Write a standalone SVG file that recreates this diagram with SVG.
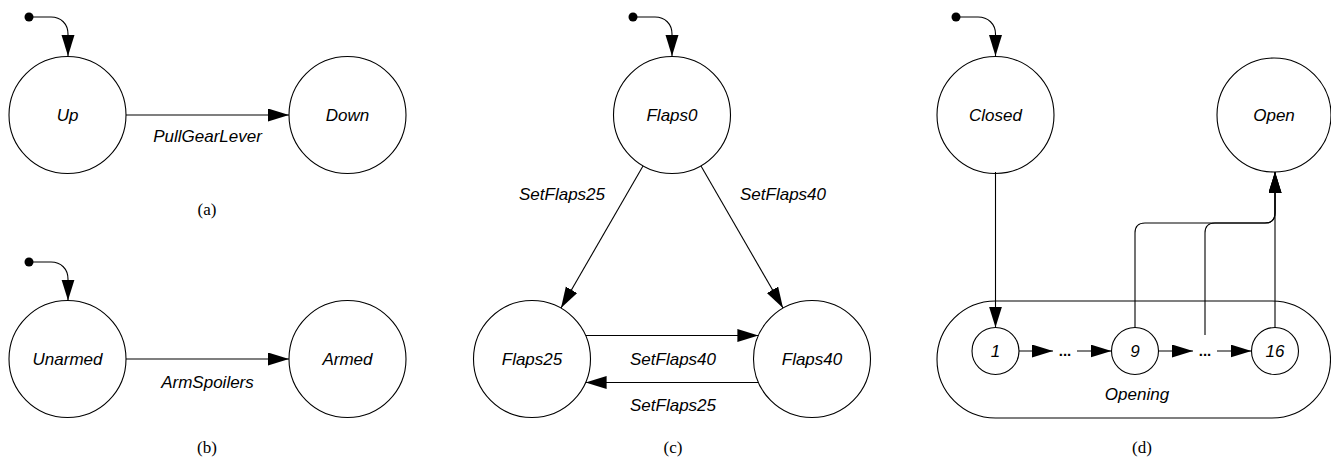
<svg xmlns="http://www.w3.org/2000/svg" width="1331" height="466" viewBox="0 0 1331 466">
<defs>
<marker id="arr" markerUnits="userSpaceOnUse" markerWidth="22" markerHeight="14" refX="21" refY="6.5" orient="auto">
<path d="M0,0 L21,6.5 L0,13 Z" fill="#000"/>
</marker>
<style>
.st{fill:#fff;stroke:#000;stroke-width:1.1}
.lb{font-family:"Liberation Sans",Arial,sans-serif;font-style:italic;font-size:17px;fill:#000;text-anchor:middle}
.cap{font-family:"Liberation Serif","Times New Roman",serif;font-size:17px;fill:#000;text-anchor:middle}
.ed{fill:none;stroke:#000;stroke-width:1.1;marker-end:url(#arr)}
.dot{fill:#000}
.el{font-family:"Liberation Sans",Arial,sans-serif;font-size:15px;font-weight:bold;fill:#000;text-anchor:middle}
</style>
</defs>
<rect width="1331" height="466" fill="#fff"/>

<g id="connectors">
<!-- (a) -->
<circle class="dot" cx="29" cy="17" r="4.5"/>
<path class="ed" d="M29,17 H51 C61,17 68,24 68,34 V56"/>
<path class="ed" d="M126,115 H289"/>
<text class="lb" x="207.5" y="142">PullGearLever</text>
<!-- (b) -->
<circle class="dot" cx="29" cy="262" r="4.5"/>
<path class="ed" d="M29,262 H51 C61,262 68,269 68,279 V300.5"/>
<path class="ed" d="M126,359 H289"/>
<text class="lb" x="207.5" y="388">ArmSpoilers</text>
<!-- (c) -->
<circle class="dot" cx="633" cy="17" r="4.5"/>
<path class="ed" d="M633,17 H655 C665,17 672,24 672,34 V56"/>
<path class="ed" d="M643,166 L561,308"/>
<path class="ed" d="M701,166 L783,308"/>
<text class="lb" x="562" y="200">SetFlaps25</text>
<text class="lb" x="783" y="200">SetFlaps40</text>
<path class="ed" d="M585.6,335.5 H758.4"/>
<path class="ed" d="M758.4,382.5 H585.6"/>
<text class="lb" x="673" y="365">SetFlaps40</text>
<text class="lb" x="673" y="411">SetFlaps25</text>
<!-- (d) -->
<circle class="dot" cx="956" cy="17" r="4.5"/>
<path class="ed" d="M956,17 H978 C988,17 995.5,24 995.5,34 V56"/>
</g>

<g id="node-up"><circle class="st" cx="67.5" cy="115" r="58.5"/><text class="lb" x="67.5" y="121">Up</text></g>
<g id="node-down"><circle class="st" cx="347.5" cy="115" r="58.5"/><text class="lb" x="347.5" y="121">Down</text></g>
<text class="cap" x="207" y="215">(a)</text>

<g id="node-unarmed"><circle class="st" cx="67.5" cy="359" r="58.5"/><text class="lb" x="67.5" y="365">Unarmed</text></g>
<g id="node-armed"><circle class="st" cx="347.5" cy="359" r="58.5"/><text class="lb" x="347.5" y="365">Armed</text></g>
<text class="cap" x="207" y="453">(b)</text>

<g id="node-flaps0"><circle class="st" cx="672" cy="115" r="58.5"/><text class="lb" x="672" y="121">Flaps0</text></g>
<g id="node-flaps25"><circle class="st" cx="532" cy="359" r="58.5"/><text class="lb" x="532" y="365">Flaps25</text></g>
<g id="node-flaps40"><circle class="st" cx="812" cy="359" r="58.5"/><text class="lb" x="812" y="365">Flaps40</text></g>
<text class="cap" x="673" y="453">(c)</text>

<g id="node-closed"><circle class="st" cx="995.5" cy="115" r="58.5"/><text class="lb" x="995.5" y="121">Closed</text></g>
<g id="node-open"><circle class="st" cx="1274" cy="115" r="57"/><text class="lb" x="1274" y="121">Open</text></g>
<g id="node-opening">
<rect class="st" x="937" y="301" width="393.5" height="117" rx="58.5" ry="58.5"/>
<text class="lb" x="1137" y="400">Opening</text>
</g>

<g id="connectors-d">
<path class="ed" d="M995.5,172 V327.5"/>
<path class="ed" d="M1019,351 H1053"/>
<text class="el" x="1065" y="356">...</text>
<path class="ed" d="M1077,351 H1111.5"/>
<path class="ed" d="M1158.5,351 H1193"/>
<text class="el" x="1205" y="356">...</text>
<path class="ed" d="M1217,351 H1251.5"/>
<path class="ed" d="M1135,327.5 V233 Q1135,223 1145,223 H1265 Q1275,223 1275,213 V172"/>
<path class="ed" d="M1205,335 V233 Q1205,223 1215,223 H1265 Q1275,223 1275,213 V172"/>
<path class="ed" d="M1275,327.5 V172"/>
</g>

<g id="node-s1"><circle class="st" cx="995.5" cy="351" r="23.5"/><text class="lb" x="995.5" y="357">1</text></g>
<g id="node-s9"><circle class="st" cx="1135" cy="351" r="23.5"/><text class="lb" x="1135" y="357">9</text></g>
<g id="node-s16"><circle class="st" cx="1275" cy="351" r="23.5"/><text class="lb" x="1275" y="357">16</text></g>
<text class="cap" x="1142" y="453">(d)</text>
</svg>
